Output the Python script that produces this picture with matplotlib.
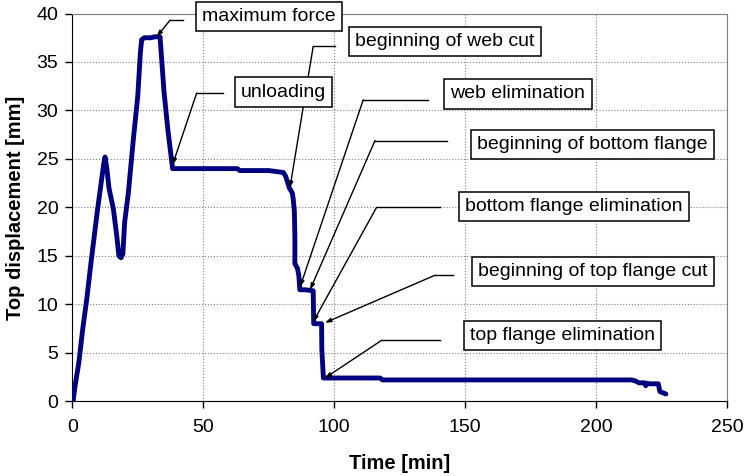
import matplotlib.pyplot as plt

plt.rcParams['font.family'] = ['Liberation Sans', 'DejaVu Sans']

# Measured test record: time [min] vs. top displacement [mm]
time_min = [0.3, 1.0, 2.5, 4.0, 5.5, 7.0, 8.0, 9.5, 11.0, 12.0, 12.5,
            13.2, 14.0, 15.7, 17.0, 17.8, 18.6, 19.3, 20.0, 21.4, 23.3,
            25.0, 26.0, 26.5, 27.5, 30.0, 31.5, 33.5, 35.0, 36.5, 38.3,
            45.0, 55.0, 63.0, 64.0, 75.0, 80.6, 81.5, 82.9, 84.0, 84.4,
            84.8, 85.0, 85.0, 86.0, 86.5, 86.9, 89.0, 92.0, 92.2, 95.2,
            95.3, 95.9, 105.0, 117.5, 118.5, 150.0, 200.0, 213.6, 215.0,
            216.5, 218.7, 219.0, 219.5, 220.6, 223.8, 224.4, 226.7]
top_disp_mm = [0.0, 1.5, 4.0, 7.5, 10.5, 14.0, 16.2, 19.5, 22.5, 24.5, 25.2,
               24.0, 22.0, 19.8, 17.0, 15.0, 14.8, 15.2, 18.5, 21.5, 27.0,
               31.5, 36.0, 37.3, 37.5, 37.5, 37.6, 37.6, 32.0, 28.0, 24.0,
               24.0, 24.0, 24.0, 23.8, 23.8, 23.6, 23.2, 22.0, 21.5, 20.8,
               19.6, 17.0, 14.2, 13.7, 13.0, 11.5, 11.5, 11.4, 8.0, 8.0,
               5.3, 2.4, 2.4, 2.4, 2.2, 2.2, 2.2, 2.2, 2.1,
               1.9, 1.9, 1.6, 1.85, 1.8, 1.8, 1.0, 0.75]

# Stage labels
stage_labels = ['maximum force', 'unloading', 'beginning of web cut',
                'web elimination', 'beginning of bottom flange',
                'bottom flange elimination', 'beginning of top flange cut',
                'top flange elimination']

# Callout layout: (arrow tip, elbow, end of horizontal leg, text centre)
callouts = [
    ((32.2, 37.6), (37.3, 39.3), (42.3, 39.3), (75.1, 39.7)),
    ((38.3, 24.4), (47.5, 31.8), (57.6, 31.8), (80.6, 31.9)),
    ((83.1, 22.0), (92.0, 36.6), (100.3, 36.6), (142.2, 37.1)),
    ((87.0, 11.8), (111.1, 31.1), (136.0, 31.1), (170.2, 31.7)),
    ((90.8, 11.5), (115.6, 26.9), (143.0, 26.9), (198.7, 26.5)),
    ((92.0, 8.2), (116.2, 20.0), (140.4, 20.0), (191.7, 20.1)),
    ((96.5, 8.1), (138.5, 13.0), (145.5, 13.0), (198.7, 13.4)),
    ((96.5, 2.4), (118.2, 6.3), (140.4, 6.3), (187.2, 6.8)),
]


def draw_callout(ax, label, tip, elbow, end, centre):
    """Boxed label with an elbowed leader line ending in a small arrow."""
    ax.plot([end[0], elbow[0]], [end[1], elbow[1]], color='black',
            lw=1.0, clip_on=False, zorder=4)
    ax.annotate('', xy=tip, xytext=elbow,
                arrowprops=dict(arrowstyle='-|>,head_length=0.35,head_width=0.12',
                                color='black', lw=1.0, shrinkA=0, shrinkB=0),
                zorder=4, annotation_clip=False)
    ax.text(centre[0], centre[1], label, ha='center', va='center',
            fontsize=14, zorder=5, clip_on=False,
            bbox=dict(boxstyle='square,pad=0.32', fc='white', ec='black', lw=1.1))


fig = plt.figure(figsize=(7.44, 4.76), dpi=100)
ax = fig.add_axes([0.0972, 0.157, 0.977 - 0.0972, 0.9716 - 0.157])

ax.plot(time_min, top_disp_mm, color='#000080', lw=3.5,
        solid_joinstyle='round', solid_capstyle='round', zorder=3)

ax.set_xlim(0, 250)
ax.set_ylim(0, 40)
ax.set_xticks(range(0, 251, 50))
ax.set_yticks(range(0, 41, 5))
ax.grid(True, color='#808080', linestyle=':', linewidth=0.8)
ax.set_axisbelow(True)

for side in ('top', 'right'):
    ax.spines[side].set_color('#808080')
for side in ('left', 'bottom'):
    ax.spines[side].set_color('black')
ax.tick_params(direction='out', length=5, width=1, labelsize=14)
ax.tick_params(axis='x', pad=8)
ax.tick_params(axis='y', pad=5)

ax.set_xlabel('Time [min]', fontsize=14.5, fontweight='bold', labelpad=13)
ax.set_ylabel('Top displacement [mm]', fontsize=14.5, fontweight='bold', labelpad=8)

for label, (tip, elbow, end, centre) in zip(stage_labels, callouts):
    draw_callout(ax, label, tip, elbow, end, centre)

fig.savefig('out.png', dpi=100)
